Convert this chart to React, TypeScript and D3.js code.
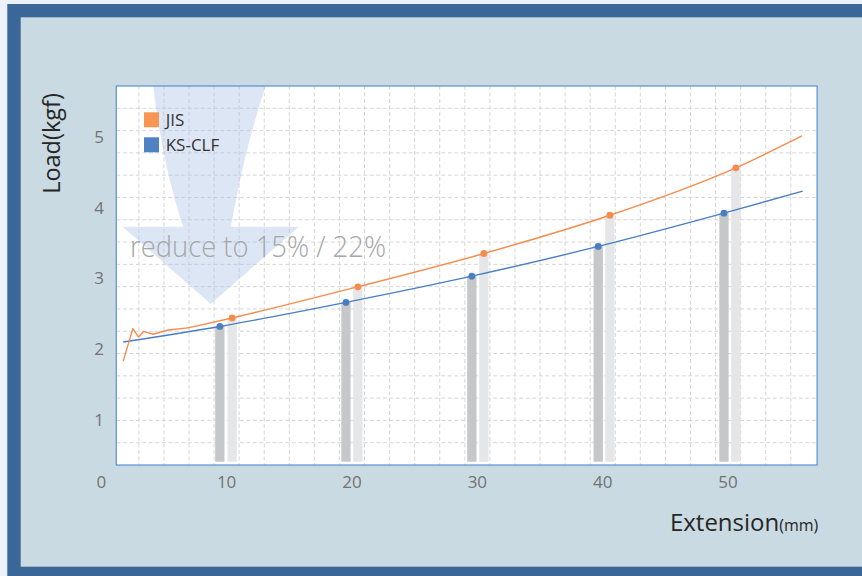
import React from "react";
import * as d3 from "d3";

const W = 862;
const H = 576;

const xTicks = [0, 10, 20, 30, 40, 50];
const yTicks = [1, 2, 3, 4, 5];
const seriesNames = ["JIS", "KS-CLF"];

// JIS: jagged start (straight segments), then smooth curve
const jisStartX = [1.75, 2.52, 2.98, 3.37, 4.14, 5.34, 6.93];
const jisStartY = [1.83, 2.29, 2.17, 2.25, 2.21, 2.27, 2.3];
const jisX = [6.93, 10.44, 20.47, 30.52, 40.57, 50.62, 55.9];
const jisY = [2.3, 2.44, 2.88, 3.35, 3.89, 4.56, 5.01];
const ksX = [1.75, 9.46, 19.52, 29.56, 39.64, 49.67, 55.95];
const ksY = [2.1, 2.32, 2.66, 3.03, 3.45, 3.92, 4.23];

const jisMarkX = [10.44, 20.47, 30.52, 40.57, 50.62];
const jisMarkY = [2.44, 2.88, 3.35, 3.89, 4.56];
const ksMarkX = [9.46, 19.52, 29.56, 39.64, 49.67];
const ksMarkY = [2.32, 2.66, 3.03, 3.45, 3.92];
const barBase = 0.41;

const annotation = "reduce to 15% / 22%";
const yTitle = "Load(kgf)";
const xTitle = "Extension";
const xUnit = "(mm)";

const C = {
  page: "#edf1f9",
  frame: "#3a6797",
  panel: "#c9dae2",
  plotBorder: "#5b8fd4",
  grid: "#d6d6d6",
  orange: "#f58c4e",
  blue: "#4a7ec2",
  barDark: "#c6c7c9",
  barLight: "#e5e6e7",
  tick: "#727272",
  title: "#262626",
};

export default function App() {
  const L = 116.3, R = 817.1, T = 86, B = 465;
  const x = d3.scaleLinear().domain([1.2, 57.1]).range([L, R]);
  const y = d3.scaleLinear().domain([0.364, 5.715]).range([B, T]);
  const gridY = d3.scaleLinear().domain([0, 17]).range([B, T]);

  const vGrid = d3.range(3, 57, 2);
  const hGrid = d3.range(1, 17);

  const smooth = d3
    .line<[number, number]>()
    .x((d) => x(d[0]))
    .y((d) => y(d[1]))
    .curve(d3.curveMonotoneX);
  const straight = d3
    .line<[number, number]>()
    .x((d) => x(d[0]))
    .y((d) => y(d[1]));

  const jisStart = jisStartX.map((v, i) => [v, jisStartY[i]] as [number, number]);
  const jis = jisX.map((v, i) => [v, jisY[i]] as [number, number]);
  const ks = ksX.map((v, i) => [v, ksY[i]] as [number, number]);

  const ax = (v: number) => x(v);
  const ay = (v: number) => y(v);
  const arrow =
    `M${ax(4.14)},${ay(5.715)} Q${ax(4.9)},${ay(4.6)} ${ax(6.53)},${ay(3.729)} ` +
    `L${ax(1.7)},${ay(3.729)} L${ax(8.74)},${ay(2.637)} L${ax(15.76)},${ay(3.729)} ` +
    `L${ax(10.34)},${ay(3.729)} Q${ax(11.4)},${ay(4.8)} ${ax(13.11)},${ay(5.715)} Z`;

  const barW = 9.3;
  const font = "'Open Sans', 'Noto Sans', sans-serif";

  return (
    <svg
      width={W}
      height={H}
      style={{ position: "fixed", left: 0, top: 0, display: "block" }}
      fontFamily={font}
    >
      <defs>
        <clipPath id="plotClip">
          <rect x={L} y={T} width={R - L} height={B - T} />
        </clipPath>
      </defs>
      <rect x={0} y={0} width={W} height={H} fill={C.page} />
      <rect x={7.3} y={4} width={W - 7.3} height={H - 4} fill={C.frame} />
      <rect x={20.7} y={17.3} width={W - 20.7} height={566.7 - 17.3} fill={C.panel} />

      <rect x={L} y={T} width={R - L} height={B - T} fill="#fff" />
      <g stroke={C.grid} strokeWidth={1} strokeDasharray="4 2.5">
        {vGrid.map((v) => (
          <line key={"v" + v} x1={x(v)} x2={x(v)} y1={T} y2={B} />
        ))}
        {hGrid.map((v) => (
          <line key={"h" + v} x1={L} x2={R} y1={gridY(v)} y2={gridY(v)} />
        ))}
      </g>

      <g clipPath="url(#plotClip)">
        <path d={arrow} fill="#a9c0e6" fillOpacity={0.4} />
      </g>

      {ksMarkX.map((v, i) => (
        <rect
          key={"kb" + i}
          x={x(v) - barW / 2}
          y={y(ksMarkY[i])}
          width={barW}
          height={y(barBase) - y(ksMarkY[i])}
          fill={C.barDark}
        />
      ))}
      {jisMarkX.map((v, i) => (
        <rect
          key={"jb" + i}
          x={x(v) - barW / 2}
          y={y(jisMarkY[i])}
          width={barW}
          height={y(barBase) - y(jisMarkY[i])}
          fill={C.barLight}
        />
      ))}

      <path d={smooth(ks) || ""} fill="none" stroke={C.blue} strokeWidth={1.4} />
      <path d={straight(jisStart) || ""} fill="none" stroke={C.orange} strokeWidth={1.4} strokeLinejoin="round" />
      <path d={smooth(jis) || ""} fill="none" stroke={C.orange} strokeWidth={1.4} />
      {ksMarkX.map((v, i) => (
        <circle key={"kc" + i} cx={x(v)} cy={y(ksMarkY[i])} r={3.4} fill={C.blue} />
      ))}
      {jisMarkX.map((v, i) => (
        <circle key={"jc" + i} cx={x(v)} cy={y(jisMarkY[i])} r={3.4} fill={C.orange} />
      ))}

      <text
        x={130}
        y={256.7}
        fontSize={29}
        fill="#a6a6a6"
        fontWeight={300}
        textLength={256}
        lengthAdjust="spacingAndGlyphs"
      >
        {annotation}
      </text>

      {seriesNames.map((s, i) => (
        <g key={s}>
          <rect x={144} y={112.3 + i * 25} width={15} height={15} fill={i === 0 ? "#f79552" : "#4f82c4"} />
          <text x={165.7} y={125.9 + i * 25} fontSize={17} fill="#333">
            {s}
          </text>
        </g>
      ))}

      <rect x={L} y={T} width={R - L} height={B - T} fill="none" stroke={C.plotBorder} strokeWidth={1.2} />

      {yTicks.map((v) => (
        <text
          key={"yt" + v}
          x={104}
          y={y(v)}
          dy="0.36em"
          textAnchor="end"
          fontSize={17}
          fill={C.tick}
        >
          {v}
        </text>
      ))}
      {xTicks.map((v) => (
        <text
          key={"xt" + v}
          x={x(v)}
          y={488}
          textAnchor="middle"
          fontSize={17}
          fill={C.tick}
        >
          {v}
        </text>
      ))}

      <text
        transform={`translate(59.5,143.5) rotate(-90)`}
        textAnchor="middle"
        fontSize={23.5}
        fill={C.title}
      >
        {yTitle}
      </text>
      <text x={818.3} y={530.7} textAnchor="end" fill={C.title}>
        <tspan fontSize={24}>{xTitle}</tspan>
        <tspan fontSize={16}>{xUnit}</tspan>
      </text>
    </svg>
  );
}
